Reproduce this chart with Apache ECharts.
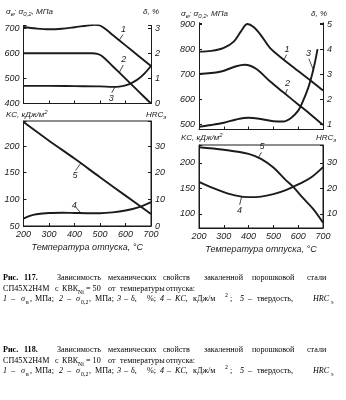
<!DOCTYPE html>
<html>
<head>
<meta charset="utf-8">
<script src="https://cdn.jsdelivr.net/npm/echarts@6/dist/echarts.min.js"></script>
<style>
  html, body { margin: 0; padding: 0; background: #fff; }
  #c { width: 346px; height: 400px; }
</style>
</head>
<body>
<div id="c"></div>
<script>
// ---- Рис. 117: КВК(Ni) = 50 ----
const t117Sb  = [200, 250, 300, 350, 400, 450, 480, 500, 525, 550, 600, 650, 700];
const sb117   = [704, 698, 695, 697, 703, 710, 713, 710, 693, 672, 631, 590, 549];      // σв, МПа
const t117S02 = [200, 300, 400, 470, 490, 510, 550, 600, 650, 700];
const s02_117 = [600, 600, 600, 600, 597, 587, 548, 499, 449, 400];                    // σ0,2, МПа
const t117D   = [200, 300, 400, 500, 550, 575, 600, 625, 650, 675, 700];
const d117    = [0.70, 0.70, 0.69, 0.68, 0.66, 0.67, 0.72, 0.82, 0.97, 1.20, 1.49];    // δ, %
const t117KC  = [200, 225, 250, 300, 350, 400, 450, 500, 550, 600, 650, 700];
const kc117   = [64, 69, 72, 74.5, 75, 74.5, 74, 74, 75.5, 79, 85, 95];               // KC, кДж/м²
const t117H   = [200, 300, 400, 500, 600, 700];
const hrc117  = [39, 32, 25.3, 18.3, 11.4, 4.5];                                       // HRCэ

// ---- Рис. 118: КВК(Ni) = 10 ----
const t118Sb  = [200, 250, 300, 340, 370, 395, 420, 450, 486, 533, 600, 650, 700];
const sb118   = [790, 793, 805, 830, 872, 900, 888, 855, 805, 765, 713, 675, 635];
const t118S02 = [200, 285, 350, 385, 430, 486, 540, 600, 650, 700];
const s02_118 = [701, 710, 732, 738, 722, 672, 628, 580, 540, 498];
const t118D   = [200, 250, 300, 350, 400, 450, 500, 540, 570, 600, 620, 640, 655, 668, 678];
const d118    = [0.91, 0.98, 1.07, 1.2, 1.27, 1.22, 1.13, 1.12, 1.25, 1.55, 1.95, 2.45, 2.95, 3.5, 4.0];
const t118KC  = [200, 250, 300, 350, 400, 450, 500, 550, 600, 650, 700];
const kc118   = [163, 152, 143, 136, 133, 134, 139, 147, 158, 171, 192];
const t118H   = [200, 300, 400, 450, 500, 550, 580, 620, 660, 700];
const hrc118  = [36.2, 35.2, 33.6, 31.6, 28.2, 23.3, 20.6, 16.2, 12, 6.6];

const xTitle = 'Температура отпуска, °C';

const INK = '#1b1b1b';
const SANS = '"Liberation Sans", Arial, sans-serif';
const SERIF = '"Liberation Serif", "Times New Roman", serif';

const pair = (xs, ys) => xs.map((x, i) => [x, ys[i]]);

// curve-number callout: short leader from the curve to its number
function callout(from, to, text) {
  return {
    silent: true, animation: false, symbol: ['none', 'none'],
    lineStyle: { color: INK, width: 0.8, type: 'solid' },
    emphasis: { disabled: true },
    label: { show: true, position: 'end', formatter: text, color: INK,
             fontFamily: SANS, fontStyle: 'italic', fontSize: 9, distance: 1 },
    data: [[{ coord: from }, { coord: to }]]
  };
}

function curve(xi, yi, xs, ys, mark) {
  const s = {
    type: 'line', xAxisIndex: xi, yAxisIndex: yi, data: pair(xs, ys),
    smooth: 0.35, symbol: 'none', showSymbol: false,
    lineStyle: { color: INK, width: 1.9, join: 'round' }, animation: false, silent: true
  };
  if (mark) s.markLine = mark;
  return s;
}

function labelFmt(step) {
  return v => (Math.abs(v / step - Math.round(v / step)) < 1e-6 ? String(Math.round(v * 100) / 100) : '');
}

function yAx(grid, pos, min, max, step, fixed) {
  const a = {
    type: 'value', gridIndex: grid, position: pos, min, max,
    axisLine: { show: true, onZero: false, lineStyle: { color: INK, width: 1 } },
    axisTick: { show: true, inside: true, length: 3, lineStyle: { color: INK } },
    axisLabel: { color: INK, fontFamily: SANS, fontStyle: 'italic', fontSize: 9, margin: 4,
                 formatter: labelFmt(step) },
    splitLine: { show: false }
  };
  if (fixed) a.interval = step; else { a.minInterval = step; a.maxInterval = step; }
  return a;
}

function xAx(grid, withLabels) {
  return {
    type: 'value', gridIndex: grid, min: 200, max: 700, interval: 100,
    axisLine: { show: true, onZero: false, lineStyle: { color: INK, width: 1 } },
    axisTick: { show: true, inside: true, length: 3, lineStyle: { color: INK } },
    axisLabel: { show: withLabels, color: INK, fontFamily: SANS, fontStyle: 'italic', fontSize: 9, margin: 4 },
    splitLine: { show: false },
    name: withLabels ? xTitle : '', nameLocation: 'middle', nameGap: 17,
    nameTextStyle: { color: INK, fontFamily: SANS, fontStyle: 'italic', fontSize: 9 }
  };
}

// axis captions with sub/superscripts
const nameRich = {
  a: { fontSize: 8, fontStyle: 'italic', fontFamily: SANS, fill: INK, lineHeight: 11, verticalAlign: 'middle' },
  s: { fontSize: 6, fontStyle: 'italic', fontFamily: SANS, fill: INK, lineHeight: 6, verticalAlign: 'bottom' },
  p: { fontSize: 6, fontStyle: 'italic', fontFamily: SANS, fill: INK, lineHeight: 6, verticalAlign: 'top' }
};
function axisName(x, y, text) {
  return { type: 'text', x, y, silent: true,
           style: { text, rich: nameRich, verticalAlign: 'middle', align: 'left' } };
}
const sigmaName = '{a|σ}{s|в}{a|; σ}{s|0,2}{a|, МПа}';
const deltaName = '{a|δ, %}';
const kcName = '{a|KC, кДж/м}{p|2}';
const hrcName = '{a|HRC}{s|э}';

// figure captions, word by word (justified lines)
function captionLines(num, kvk) {
  return [
    [[3, 'Рис.', 'b'], [24, num, 'b'], [57, 'Зависимость'], [108, 'механических'], [163, 'свойств'],
     [204, 'закаленной'], [252, 'порошковой'], [307, 'стали']],
    [[3, 'СП45Х2Н4М'], [55, 'с'], [62, 'КВК'], [78, 'Ni', 'sub'], [86, '= ' + kvk], [108, 'от'],
     [120, 'температуры'], [166, 'отпуска:']],
    [[3, '1', 'i'], [11, '–'], [21, 'σ', 'i'], [26, 'в', 'sub'], [30, ','], [35, 'МПа;'],
     [59, '2', 'i'], [67, '–'], [76, 'σ', 'i'], [81, '0,2', 'sub'], [89, ','], [95, 'МПа;'],
     [117, '3', 'i'], [124, '–'], [131, 'δ,'], [147, '%;'], [160, '4', 'i'], [167, '–'],
     [175, 'KC,', 'i'], [193, 'кДж/м'], [225, '2', 'sup'], [230, ';'], [240, '5', 'i'], [248, '–'],
     [257, 'твердость,'], [313, 'HRC', 'i'], [331, 'э', 'sub']]
  ];
}
function captionElements(top, num, kvk) {
  const ys = [top, top + 11, top + 21];
  const out = [];
  captionLines(num, kvk).forEach((line, li) => {
    line.forEach(([x, text, kind]) => {
      let y = ys[li], size = 9, weight = 'normal', style = 'normal';
      if (kind === 'b') weight = 'bold';
      if (kind === 'i') style = 'italic';
      if (kind === 'sub') { y += 3.5; size = 6.5; }
      if (kind === 'sup') { y -= 4; size = 6.5; }
      out.push({ type: 'text', x, y, scaleX: 0.9, silent: true,
                 style: { text, fill: '#000', fontFamily: SERIF, fontSize: size, fontWeight: weight,
                          fontStyle: style, verticalAlign: 'middle', align: 'left' } });
    });
  });
  return out;
}

const chart = echarts.init(document.getElementById('c'), null, { renderer: 'canvas' });

chart.setOption({
  animation: false,
  backgroundColor: '#ffffff',
  grid: [
    { left: 23.5, top: 25.5, width: 127.5, height: 78 },
    { left: 23.5, top: 121, width: 127.5, height: 105, show: true, borderColor: INK, borderWidth: 1 },
    { left: 199, top: 22.8, width: 124, height: 106.7 },
    { left: 199, top: 145, width: 124, height: 83, show: true, borderColor: INK, borderWidth: 1 }
  ],
  xAxis: [xAx(0, false), xAx(1, true), xAx(2, false), xAx(3, true)],
  yAxis: [
    yAx(0, 'left', 400, 710, 100, true),
    yAx(0, 'right', 0, 3.1, 1, true),
    yAx(1, 'left', 50, 247, 50, true),
    yAx(1, 'right', 0, 39.4, 10, true),
    yAx(2, 'left', 480, 905, 100, false),
    yAx(2, 'right', 0.8, 5.05, 1, false),
    yAx(3, 'left', 72.5, 235.3, 50, false),
    yAx(3, 'right', 4.5, 37.06, 10, false)
  ],
  series: [
    curve(0, 0, t117Sb, sb117, callout([575, 651], [590, 674], '1')),
    curve(0, 0, t117S02, s02_117, callout([575, 522], [591, 553], '2')),
    curve(0, 1, t117D, d117, callout([559, 0.66], [546, 0.43], '3')),
    curve(1, 2, t117KC, kc117, callout([425, 74.5], [402, 87], '4')),
    curve(1, 3, t117H, hrc117, callout([425, 23.6], [404, 20.8], '5')),
    curve(2, 4, t118Sb, sb118, callout([543, 758], [553, 778], '1')),
    curve(2, 4, t118S02, s02_118, callout([548, 619], [556, 641], '2')),
    curve(2, 5, t118D, d118, callout([660, 3.2], [643, 3.62], '3')),
    curve(3, 6, t118KC, kc118, callout([372, 134.5], [364, 118], '4')),
    curve(3, 7, t118H, hrc118, callout([440, 32.2], [452, 34.2], '5'))
  ],
  graphic: [
    axisName(6, 12, sigmaName),
    axisName(143, 12, deltaName),
    axisName(6, 115, kcName),
    axisName(146, 115, hrcName),
    axisName(181, 14, sigmaName),
    axisName(311, 14, deltaName),
    axisName(181, 138, kcName),
    axisName(316, 138, hrcName),
    ...captionElements(278, '117.', '50'),
    ...captionElements(350, '118.', '10')
  ]
});
</script>
</body>
</html>
